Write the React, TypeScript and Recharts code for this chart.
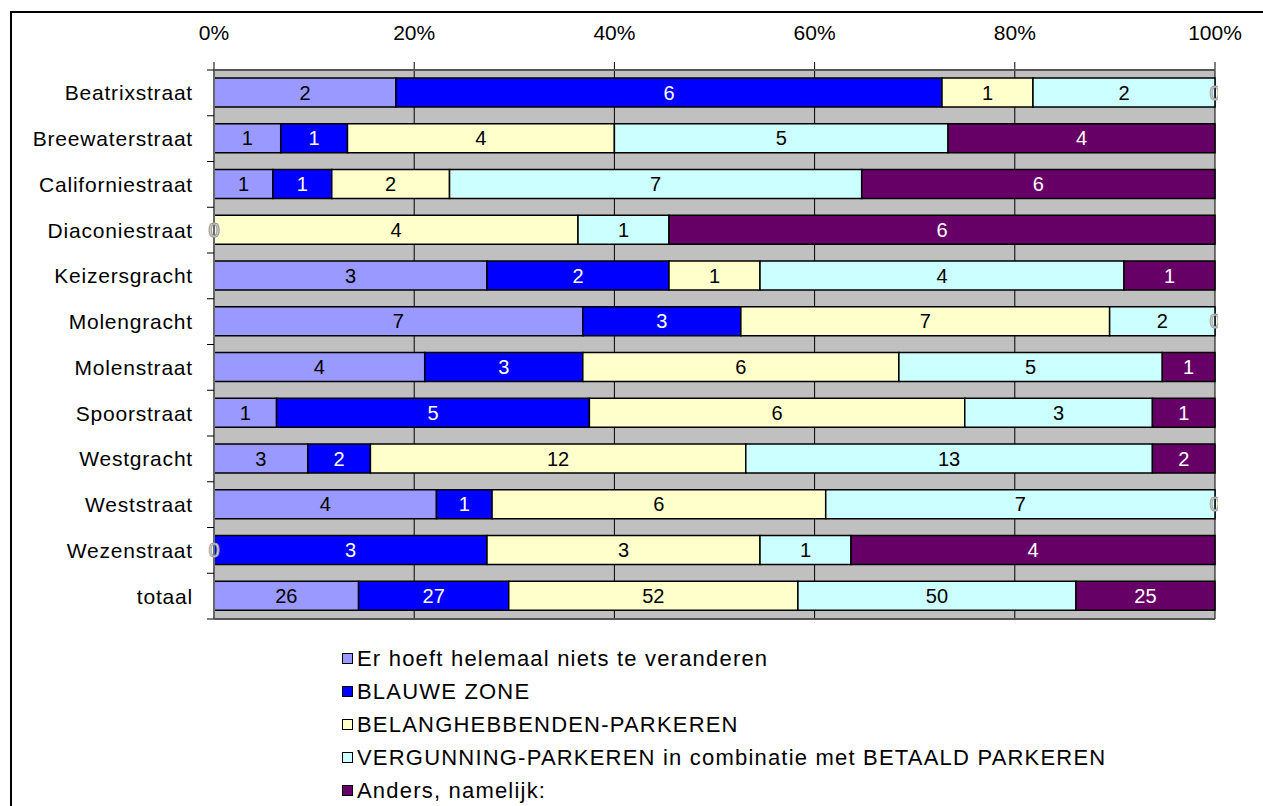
import React from 'react';
import { BarChart, Bar, XAxis, YAxis, CartesianGrid, LabelList } from 'recharts';

const streets = [
  'Beatrixstraat', 'Breewaterstraat', 'Californiestraat', 'Diaconiestraat',
  'Keizersgracht', 'Molengracht', 'Molenstraat', 'Spoorstraat',
  'Westgracht', 'Weststraat', 'Wezenstraat', 'totaal',
];
const nietsVeranderen = [2, 1, 1, 0, 3, 7, 4, 1, 3, 4, 0, 26];
const blauweZone = [6, 1, 1, 0, 2, 3, 3, 5, 2, 1, 3, 27];
const belanghebbenden = [1, 4, 2, 4, 1, 7, 6, 6, 12, 6, 3, 52];
const vergunning = [2, 5, 7, 1, 4, 2, 5, 3, 13, 7, 1, 50];
const anders = [0, 4, 6, 6, 1, 0, 1, 1, 2, 0, 4, 25];
const xTicks = [0, 0.2, 0.4, 0.6, 0.8, 1];

const series = [
  { key: 'niets', name: 'Er hoeft helemaal niets te veranderen', values: nietsVeranderen, color: '#9999FF', text: '#000' },
  { key: 'blauw', name: 'BLAUWE ZONE', values: blauweZone, color: '#0000FF', text: '#fff' },
  { key: 'belang', name: 'BELANGHEBBENDEN-PARKEREN', values: belanghebbenden, color: '#FFFFCC', text: '#000' },
  { key: 'vergunning', name: 'VERGUNNING-PARKEREN in combinatie met BETAALD PARKEREN', values: vergunning, color: '#CCFFFF', text: '#000' },
  { key: 'anders', name: 'Anders, namelijk:', values: anders, color: '#660066', text: '#fff' },
];

const data = streets.map((name, i) => {
  const row: any = { name };
  series.forEach((s) => { row[s.key] = s.values[i]; });
  return row;
});

const FONT = "'Liberation Sans', Arial, sans-serif";
const PLOT_RIGHT = 1215;

// zero-sized segments get no label from recharts, so the neighbouring
// segment draws the outlined "0" at its edge
const ZeroMark = ({ x, y }: { x: number; y: number }) => {
  const id = `clip-${Math.round(x)}-${Math.round(y)}`;
  return (
    <g>
      <defs>
        <clipPath id={id}>
          <rect x={0} y={y - 20} width={PLOT_RIGHT + 3} height={40} />
        </clipPath>
      </defs>
      <text x={x} y={y} dy="0.36em" textAnchor="middle" fontFamily={FONT} fontSize={20}
        fill="#fff" stroke="#999" strokeWidth={1} clipPath={`url(#${id})`}>0</text>
    </g>
  );
};

// label value is the street name, so the row can be looked up
const makeLabel = (si: number) => (props: any) => {
  const { x, y, width, height, value } = props;
  const row = streets.indexOf(String(value));
  if (row < 0) return null;
  const v = series[si].values[row];
  if (!v) return null;
  const left = Number(x);
  const right = Number(x) + Number(width);
  const cy = Number(y) + Number(height) / 2;
  const marks: React.ReactNode[] = [];
  for (let k = si - 1; k >= 0 && series[k].values[row] === 0; k--) {
    marks.push(<ZeroMark key={`b${k}`} x={left} y={cy} />);
  }
  const isLast = series.slice(si + 1).every((s) => s.values[row] === 0);
  if (isLast) {
    for (let k = si + 1; k < series.length; k++) {
      marks.push(<ZeroMark key={`a${k}`} x={right} y={cy} />);
    }
  }
  return (
    <g>
      <text x={(left + right) / 2} y={cy} dy="0.36em" textAnchor="middle" fontFamily={FONT} fontSize={20}
        fill={series[si].text}>
        {v}
      </text>
      {marks}
    </g>
  );
};

const YTick = (props: any) => {
  const { y, payload, index } = props;
  const half = payload && payload.offset ? payload.offset : 22.875;
  return (
    <g>
      <line x1={207} x2={214} y1={y - half} y2={y - half} stroke="#000" />
      {index === streets.length - 1 && (
        <line x1={207} x2={214} y1={y + half} y2={y + half} stroke="#000" />
      )}
      <text x={193} y={y} dy="0.36em" textAnchor="end" fontFamily={FONT} fontSize={21}
        letterSpacing={0.8} fill="#000">
        {payload.value}
      </text>
    </g>
  );
};

const App = () => {
  return (
    <div style={{ position: 'absolute', left: 0, top: 0, width: 1263, height: 806, overflow: 'hidden', background: '#fff' }}>
      <div style={{ position: 'absolute', left: 10, top: 11, width: 1270, height: 820, border: '2px solid #000' }} />
      <div style={{ position: 'absolute', left: 0, top: 0 }}>
        <BarChart
          width={1263}
          height={806}
          data={data}
          layout="vertical"
          stackOffset="expand"
          margin={{ top: 0, right: 1263 - PLOT_RIGHT, bottom: 187, left: 0 }}
        >
          <CartesianGrid horizontal={false} fill="#C0C0C0" stroke="#000" />
          <XAxis
            type="number"
            orientation="top"
            domain={[0, 1]}
            ticks={xTicks}
            tickFormatter={(v: number) => `${Math.round(v * 100)}%`}
            axisLine={false}
            tickLine={{ stroke: '#000' }}
            tickSize={8}
            tickMargin={22}
            height={70}
            tick={{ fontFamily: FONT, fontSize: 21, fill: '#000' }}
          />
          <YAxis
            type="category"
            dataKey="name"
            width={214}
            axisLine={{ stroke: '#666', strokeWidth: 2 }}
            tickLine={false}
            tick={<YTick />}
            interval={0}
          />
          {series.map((s, si) => (
            <Bar
              key={s.key}
              dataKey={s.key}
              name={s.name}
              stackId="a"
              fill={s.color}
              stroke="#000"
              strokeWidth={1.5}
              barSize={29}
              isAnimationActive={false}
            >
              <LabelList dataKey="name" content={makeLabel(si)} />
            </Bar>
          ))}
        </BarChart>
      </div>
      <div style={{ position: 'absolute', left: 0, top: 0, pointerEvents: 'none' }}>
        <svg width={1263} height={806}>
          <line x1={214} x2={PLOT_RIGHT} y1={70} y2={70} stroke="#555" strokeWidth={2} />
          <line x1={214} x2={PLOT_RIGHT} y1={619} y2={619} stroke="#555" strokeWidth={2} />
        </svg>
      </div>
      <div style={{ position: 'absolute', left: 342, top: 642, fontFamily: FONT, fontSize: 22, letterSpacing: 1.2, color: '#000' }}>
        {series.map((s) => (
          <div key={s.key} style={{ display: 'flex', alignItems: 'center', height: 33 }}>
            <span style={{ display: 'inline-block', width: 9, height: 9, background: s.color, border: '1.5px solid #000', marginRight: 4 }} />
            <span>{s.name}</span>
          </div>
        ))}
      </div>
    </div>
  );
};

export default App;
